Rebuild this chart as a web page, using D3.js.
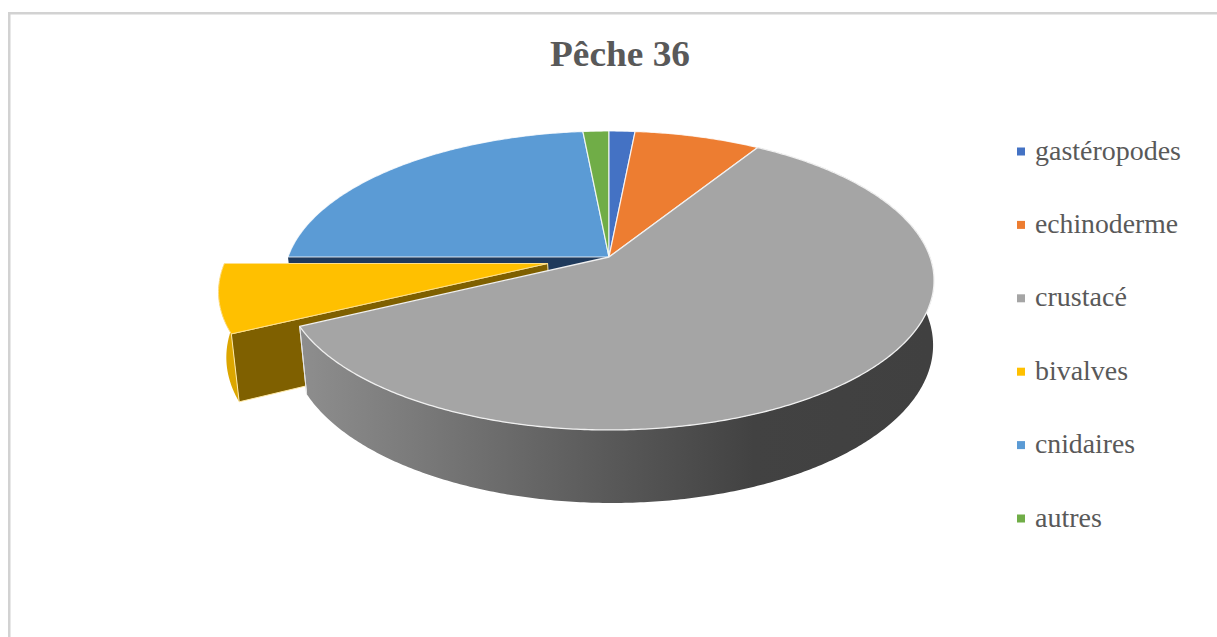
<!DOCTYPE html>
<html><head><meta charset="utf-8">
<script src="https://cdn.jsdelivr.net/npm/d3@7/dist/d3.min.js"></script>
<style>html,body{margin:0;padding:0;background:#fff}svg{display:block}</style>
</head><body><svg id="c" width="1217" height="637"></svg>
<script>
const categories = ["gastéropodes","echinoderme","crustacé","bivalves","cnidaires","autres"];
const values = [1.5,7.3,58.9,7.3,23.5,1.5];
const colors = ["#4472C4","#ED7D31","#A5A5A5","#FFC000","#5B9BD5","#70AD47"];
const explodedCategory = "bivalves";
const chartTitle = "Pêche 36";

const svg = d3.select("#c");
const W = 1217, H = 637;
// frame
svg.append("rect").attr("x",8).attr("y",12).attr("width",W-8).attr("height",2.5).attr("fill","#d2d2d2");
svg.append("rect").attr("x",8).attr("y",12).attr("width",2.5).attr("height",H-12).attr("fill","#d2d2d2");

// title
svg.append("text").text(chartTitle).attr("x",550).attr("y",66)
  .attr("textLength",140).attr("lengthAdjust","spacingAndGlyphs")
  .attr("font-family","'Liberation Serif',serif").attr("font-weight","bold")
  .attr("font-size",35).attr("fill","#595959");

// perspective camera for the pie disc
const cam = {x0:609,y0:257,a:145.8,b:321,c:64.5,k:.157,m:.012,sx:3};
const proj = (u,v,h) => {
  const w = 1 - cam.k*v + cam.m*h;
  return [cam.x0 + cam.sx*h + cam.b*u/w, cam.y0 + (cam.a*v + cam.c*h)/w];
};
const slices = d3.pie().sort(null).value(d=>d)(values).map((s,i)=>{
  const mid=(s.startAngle+s.endAngle)/2, e=categories[i]===explodedCategory?.195:0;
  return {...s,name:categories[i],color:colors[i],ox:e*Math.sin(mid),oy:-e*Math.cos(mid)};
});
const pt=(s,t,r,h)=>proj(s.ox+r*Math.sin(t),s.oy-r*Math.cos(t),h);
const arcAngles=(s)=>{const n=Math.max(4,Math.ceil((s.endAngle-s.startAngle)/0.01));
  return d3.range(n+1).map(i=>s.startAngle+(s.endAngle-s.startAngle)*i/n);};
const line=d3.line().curve(d3.curveLinear);
const topFace=s=>[pt(s,0,0,0),...arcAngles(s).map(t=>pt(s,t,1,0))];
const sideFace=s=>{const A=arcAngles(s);return [...A.map(t=>pt(s,t,1,0)),...A.slice().reverse().map(t=>pt(s,t,1,1))];};
const cutFace=(s,t)=>[pt(s,0,0,0),pt(s,t,1,0),pt(s,t,1,1),pt(s,0,0,1)];
const draw=(p,fill,stroke,sw)=>svg.append("path").attr("d",line(p)+"Z").attr("fill",fill)
  .attr("stroke",stroke||"none").attr("stroke-width",sw||0).attr("stroke-linejoin","round");

const defs=svg.append("defs");
const g=defs.append("linearGradient").attr("id","side").attr("gradientUnits","userSpaceOnUse")
  .attr("x1",300).attr("x2",930).attr("y1",0).attr("y2",0);
[[0,"#8e8e8e"],[.25,"#737373"],[.5,"#585858"],[.72,"#424242"],[1,"#404040"]]
  .forEach(d=>g.append("stop").attr("offset",d[0]).attr("stop-color",d[1]));

const by=n=>slices.find(s=>s.name===n);
const crust=by("crustacé"), biv=by("bivalves"), cnid=by("cnidaires");

// back slices
draw(cutFace(cnid,cnid.startAngle),"#1f3a5c");
["cnidaires","autres","gastéropodes","echinoderme"].forEach(n=>{
  draw(topFace(by(n)),by(n).color,"#ffffff",1.2).attr("stroke-opacity",.8);
});
// exploded slice
draw(sideFace(biv),"#dca600");
draw(cutFace(biv,biv.startAngle),"#7f6000","#ffe9a6",1);
draw(topFace(biv),biv.color,"#ffe08a",1);
// main slice
draw(sideFace(crust),"url(#side)");
draw(cutFace(crust,crust.endAngle).slice(1,3),"none","#e6e6e6",1);
draw(topFace(crust),crust.color,"#f0f0f0",1.3);

// legend
const ly=d3.scalePoint().domain(categories).range([151.5,518.5]);
const widths=[146,143,92,93,100,67];
const lg=svg.append("g").selectAll("g").data(slices).join("g")
  .attr("transform",d=>`translate(1017,${ly(d.name)})`);
lg.append("rect").attr("x",0).attr("y",-4).attr("width",8).attr("height",8).attr("fill",d=>d.color);
lg.append("text").text(d=>d.name).attr("x",18).attr("y",8)
  .attr("textLength",(d,i)=>widths[i]).attr("lengthAdjust","spacingAndGlyphs")
  .attr("font-family","'Liberation Serif',serif").attr("font-size",27).attr("fill","#595959");
</script></body></html>
